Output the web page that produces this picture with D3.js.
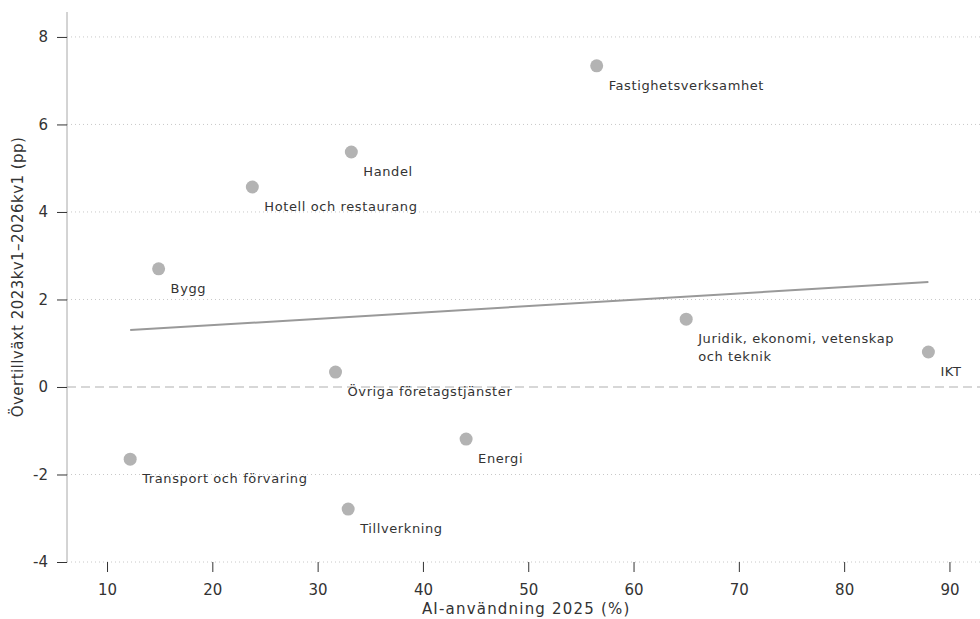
<!DOCTYPE html>
<html>
<head>
<meta charset="utf-8">
<script src="https://cdn.jsdelivr.net/npm/d3@7"></script>
<style>
  body { margin: 0; background: #fff; }
  text { font-family: "DejaVu Sans", Verdana, sans-serif; fill: #333; }
</style>
</head>
<body>
<svg id="chart" width="980" height="619"></svg>
<script>
// data
const sectors = ['Fastighetsverksamhet', 'Handel', 'Hotell och restaurang', 'Bygg',
  'Juridik, ekonomi, vetenskap\noch teknik', 'IKT', 'Övriga företagstjänster',
  'Energi', 'Transport och förvaring', 'Tillverkning']
const aiUse = [56.5, 33.2, 23.8, 14.9, 65.0, 88.0, 31.7, 44.1, 12.2, 32.9]
const growth = [7.34, 5.37, 4.57, 2.70, 1.55, 0.80, 0.34, -1.19, -1.65, -2.79]
// fitted trend line endpoints
const trendX = [12.2, 88.0]
const trendY = [1.30, 2.40]
const xTicks = [10, 20, 30, 40, 50, 60, 70, 80, 90]
const yTicks = [-4, -2, 0, 2, 4, 6, 8]

const width = 980
const height = 619
const margin = { top: 12, right: 0, bottom: 57, left: 67 }
const chartWidth = width - margin.left - margin.right
const chartHeight = height - margin.top - margin.bottom

const svg = d3.select('#chart')
const viz = svg.append('g').attr('transform', `translate(${margin.left},${margin.top})`)

const x = d3.scaleLinear([6.2, 92.9], [0, chartWidth])
const y = d3.scaleLinear([-4, 8.57], [chartHeight, 0])

// gridlines
viz.append('g')
  .selectAll('line')
  .data(yTicks.filter((d) => d !== 0))
  .join('line')
  .attr('x1', 0)
  .attr('x2', chartWidth)
  .attr('y1', (d) => y(d))
  .attr('y2', (d) => y(d))
  .attr('stroke', '#c8c8c8')
  .attr('stroke-width', 1)
  .attr('stroke-dasharray', '1,3')

// zero line
viz.append('line')
  .attr('x1', 0)
  .attr('x2', chartWidth)
  .attr('y1', y(0))
  .attr('y2', y(0))
  .attr('stroke', '#b0b0b0')
  .attr('stroke-width', 1.2)
  .attr('stroke-dasharray', '9,5')

// y axis
const yAxis = viz.append('g')
  .call(d3.axisLeft(y).tickValues(yTicks).tickSize(10).tickPadding(9).tickFormat((d) => String(d)))
yAxis.select('.domain').attr('stroke', '#a8a8a8').attr('d', `M0,0V${chartHeight}`)
yAxis.selectAll('.tick line').attr('stroke', '#333')
yAxis.selectAll('.tick text').style('font-size', '15px').attr('fill', '#333')

// x axis
const xAxis = viz.append('g')
  .attr('transform', `translate(0,${chartHeight})`)
  .call(d3.axisBottom(x).tickValues(xTicks).tickSize(10).tickPadding(12))
xAxis.select('.domain').remove()
xAxis.selectAll('.tick line').attr('stroke', '#333')
xAxis.selectAll('.tick text').style('font-size', '15px').attr('fill', '#333')

// axis titles
svg.append('text')
  .attr('x', margin.left + x(50) - 2)
  .attr('y', 614)
  .attr('text-anchor', 'middle')
  .style('font-size', '15px')
  .style('letter-spacing', '1.2px')
  .text('AI-användning 2025 (%)')

svg.append('text')
  .attr('transform', `translate(23,${margin.top + chartHeight / 2 - 10}) rotate(-90)`)
  .attr('text-anchor', 'middle')
  .style('font-size', '15px')
  .style('letter-spacing', '0.45px')
  .text('Övertillväxt 2023kv1–2026kv1 (pp)')

// trend line
viz.append('line')
  .attr('x1', x(trendX[0]))
  .attr('y1', y(trendY[0]))
  .attr('x2', x(trendX[1]))
  .attr('y2', y(trendY[1]))
  .attr('stroke', '#999')
  .attr('stroke-width', 2)

// points
const points = sectors.map((s, i) => ({ name: s, x: aiUse[i], y: growth[i] }))

viz.append('g')
  .selectAll('circle')
  .data(points)
  .join('circle')
  .attr('cx', (d) => x(d.x))
  .attr('cy', (d) => y(d.y))
  .attr('r', 6.5)
  .attr('fill', '#b3b3b3')

// labels
viz.append('g')
  .selectAll('text')
  .data(points)
  .join('text')
  .attr('y', (d) => y(d.y) + 24)
  .style('font-size', '13px')
  .style('letter-spacing', '0.6px')
  .attr('fill', '#222')
  .each(function (d) {
    const lines = d.name.split('\n')
    d3.select(this)
      .selectAll('tspan')
      .data(lines)
      .join('tspan')
      .attr('x', x(d.x) + 12)
      .attr('dy', (l, i) => (i === 0 ? 0 : 18))
      .text((l) => l)
  })
</script>
</body>
</html>
